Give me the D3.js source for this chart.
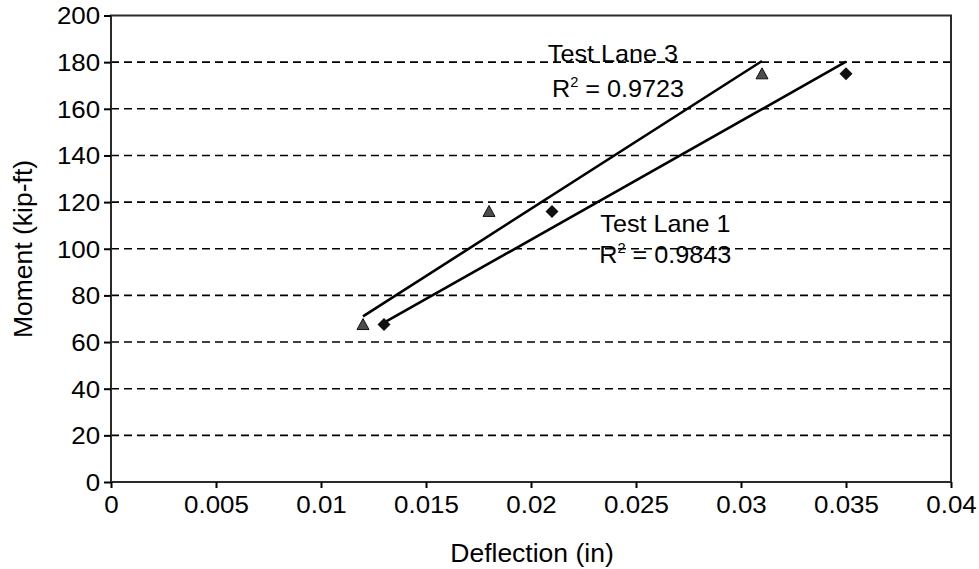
<!DOCTYPE html>
<html>
<head>
<meta charset="utf-8">
<script src="https://d3js.org/d3.v7.min.js"></script>
<style>
body { margin:0; background:#fff; }
text { font-family: "Liberation Sans", Arial, sans-serif; fill:#000; }
</style>
</head>
<body>
<svg id="chart" width="979" height="569"></svg>
<script>
// data
var xTicks = [0, 0.005, 0.01, 0.015, 0.02, 0.025, 0.03, 0.035, 0.04];
var xTickLabels = ["0", "0.005", "0.01", "0.015", "0.02", "0.025", "0.03", "0.035", "0.04"];
var yTicks = [0, 20, 40, 60, 80, 100, 120, 140, 160, 180, 200];

var lane3X = [0.012, 0.018, 0.031];
var lane3Y = [67.5, 116, 175];
var lane1X = [0.013, 0.021, 0.035];
var lane1Y = [67.5, 116, 175];

// trendline ends as drawn
var trend3X = [0.012, 0.031];
var trend3Y = [71, 180.5];
var trend1X = [0.013, 0.035];
var trend1Y = [68.3, 180.2];

var labelNames = ["Test Lane 3", "Test Lane 1"];
var labelR2 = ["0.9723", "0.9843"];

// where the labels sit (data coords) and R² line offsets (px)
var labelAt = [[0.0208, 180.2, 4, 35], [0.0233, 107.2, -1, 31]];

var svg = d3.select("#chart");
var pLeft = 111, pRight = 951, pTop = 15.5, pBottom = 482;

var x = d3.scaleLinear().domain([0, 0.04]).range([pLeft, pRight]);
var y = d3.scaleLinear().domain([0, 200]).range([pBottom, pTop]);

// grid
svg.append("g").selectAll("line")
  .data(yTicks.filter(function(d){ return d > 0 && d < 200; }))
  .enter().append("line")
  .attr("x1", pLeft).attr("x2", pRight)
  .attr("y1", function(d){ return y(d); })
  .attr("y2", function(d){ return y(d); })
  .attr("stroke", "#000")
  .attr("stroke-width", 1.6)
  .attr("stroke-dasharray", "8,5");

// frame
svg.append("rect")
  .attr("x", pLeft).attr("y", pTop)
  .attr("width", pRight - pLeft).attr("height", pBottom - pTop)
  .attr("fill", "none")
  .attr("stroke", "#2a2a2a")
  .attr("stroke-width", 2);

// axes
var xAxis = svg.append("g")
  .attr("transform", "translate(0," + pBottom + ")")
  .call(d3.axisBottom(x).tickValues(xTicks).tickSize(6).tickPadding(8)
    .tickFormat(function(d, i){ return xTickLabels[i]; }));
var yAxis = svg.append("g")
  .attr("transform", "translate(" + pLeft + ",0)")
  .call(d3.axisLeft(y).tickValues(yTicks).tickSize(7).tickPadding(3));
[xAxis, yAxis].forEach(function(a){
  a.select(".domain").remove();
  a.selectAll(".tick line").attr("stroke", "#000").attr("stroke-width", 2);
  a.selectAll("text").style("font-size", "24px").attr("fill", "#000")
    .attr("transform", "scale(1.08,1)");
});
yAxis.selectAll("text").attr("dy", "0.35em");

// titles
svg.append("text")
  .attr("x", 532).attr("y", 562)
  .attr("text-anchor", "middle")
  .style("font-size", "26.5px")
  .text("Deflection (in)");
svg.append("text")
  .attr("transform", "translate(32,249) rotate(-90)")
  .attr("text-anchor", "middle")
  .style("font-size", "26.5px")
  .text("Moment (kip-ft)");

// trendlines
var line = d3.line()
  .x(function(d){ return x(d[0]); })
  .y(function(d){ return y(d[1]); });
[[trend3X, trend3Y], [trend1X, trend1Y]].forEach(function(t){
  svg.append("path")
    .attr("d", line(d3.zip(t[0], t[1])))
    .attr("fill", "none")
    .attr("stroke", "#000")
    .attr("stroke-width", 2.6);
});

// markers
svg.append("g").selectAll("path")
  .data(d3.zip(lane3X, lane3Y))
  .enter().append("path")
  .attr("transform", function(d){ return "translate(" + x(d[0]) + "," + y(d[1]) + ")"; })
  .attr("d", "M0,-6L6,5L-6,5Z")
  .attr("fill", "#4d4d4d")
  .attr("stroke", "#111")
  .attr("stroke-width", 1);
svg.append("g").selectAll("path")
  .data(d3.zip(lane1X, lane1Y))
  .enter().append("path")
  .attr("transform", function(d){ return "translate(" + x(d[0]) + "," + y(d[1]) + ")"; })
  .attr("d", "M0,-6.5L6.5,0L0,6.5L-6.5,0Z")
  .attr("fill", "#111");

// annotations
labelNames.forEach(function(name, i){
  var p = labelAt[i];
  var g = svg.append("g")
    .attr("transform", "translate(" + x(p[0]) + "," + y(p[1]) + ") scale(1.05,1)");
  g.append("text")
    .style("font-size", "24px")
    .text(name);
  var r = g.append("text")
    .attr("x", p[2]).attr("y", p[3])
    .style("font-size", "24px");
  r.append("tspan").text("R");
  r.append("tspan").attr("dy", -10).style("font-size", "14px").text("2");
  r.append("tspan").attr("dy", 10).text(" = " + labelR2[i]);
});
</script>
</body>
</html>
